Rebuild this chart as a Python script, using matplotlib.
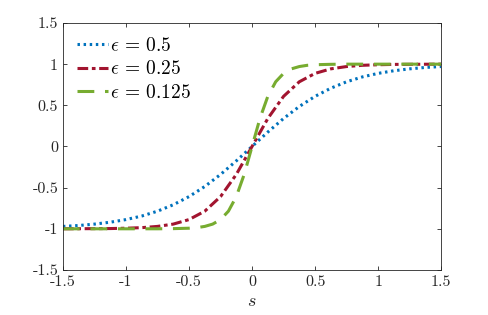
import numpy as np
import matplotlib
matplotlib.use("Agg")
import matplotlib.pyplot as plt

plt.rcParams["font.family"] = "cmr10"
plt.rcParams["mathtext.fontset"] = "cm"
plt.rcParams["axes.unicode_minus"] = False
plt.rcParams["axes.formatter.use_mathtext"] = True

# curve readings (s, value) for each epsilon
s_pos = [0.0, 0.125, 0.25, 0.375, 0.5, 0.625, 0.75, 0.875, 1.0, 1.125, 1.25, 1.375, 1.5]
eps05_pos = [0.0, 0.175, 0.34, 0.486, 0.609, 0.708, 0.786, 0.845, 0.888, 0.920, 0.943, 0.960, 0.971]
eps025_pos = [0.0, 0.34, 0.609, 0.786, 0.888, 0.943, 0.971, 0.986, 0.993, 0.997, 0.998, 0.999, 1.0]

s_green_pos = [0.0, 0.0625, 0.125, 0.1875, 0.25, 0.3125, 0.375, 0.4375, 0.5, 0.625, 0.75, 1.0, 1.25, 1.5]
eps0125_pos = [0.0, 0.34, 0.609, 0.786, 0.888, 0.943, 0.971, 0.986, 0.993, 0.998, 1.0, 1.0, 1.0, 1.0]

labels = [r"$\epsilon \,=\, 0.5$", r"$\epsilon \,=\, 0.25$", r"$\epsilon \,=\, 0.125$"]
xticks = [-1.5, -1, -0.5, 0, 0.5, 1, 1.5]
xtick_labels = ["-1.5", "-1", "-0.5", "0", "0.5", "1", "1.5"]
yticks = [-1.5, -1, -0.5, 0, 0.5, 1, 1.5]
ytick_labels = ["-1.5", "-1", "-0.5", "0", "0.5", "1", "1.5"]

#mirror the readings to the negative side (curves are odd)
def full(s, v):
    s = np.array(s)
    v = np.array(v)
    return np.concatenate([-s[::-1], s[1:]]), np.concatenate([-v[::-1], v[1:]])

s1, y1 = full(s_pos, eps05_pos)
s2, y2 = full(s_pos, eps025_pos)
s3, y3 = full(s_green_pos, eps0125_pos)

fig = plt.figure(figsize=(4.88, 3.15), dpi=100)
ax = fig.add_axes([0.129, 0.143, 0.775, 0.784])

ax.plot(s1, y1, color="#0072BD", lw=2.2, linestyle=(0, (0.8, 1.2)), label=labels[0])
ax.plot(s2, y2, color="#A2142F", lw=2.2, linestyle=(0, (3.5, 1.2, 1.2, 1.2)), label=labels[1])
ax.plot(s3, y3, color="#77AC30", lw=2.2, linestyle=(0, (5.5, 3.5)), label=labels[2])

ax.set_xlim(-1.5, 1.5)
ax.set_ylim(-1.5, 1.5)
ax.set_xticks(xticks)
ax.set_xticklabels(xtick_labels)
ax.set_yticks(yticks)
ax.set_yticklabels(ytick_labels)
ax.tick_params(direction="in", top=True, right=True, labelsize=11.5, length=3,
               color="#262626", labelcolor="#262626", width=0.6)
for sp in ax.spines.values():
    sp.set_color("#262626")
    sp.set_linewidth(0.6)
ax.set_xlabel("$s$", fontsize=13, color="#262626")

ax.legend(loc="upper left", frameon=False, fontsize=14, handlelength=1.6,
          handletextpad=0.1, labelspacing=0.3, borderaxespad=0.3)

fig.savefig("out.png", dpi=100)
